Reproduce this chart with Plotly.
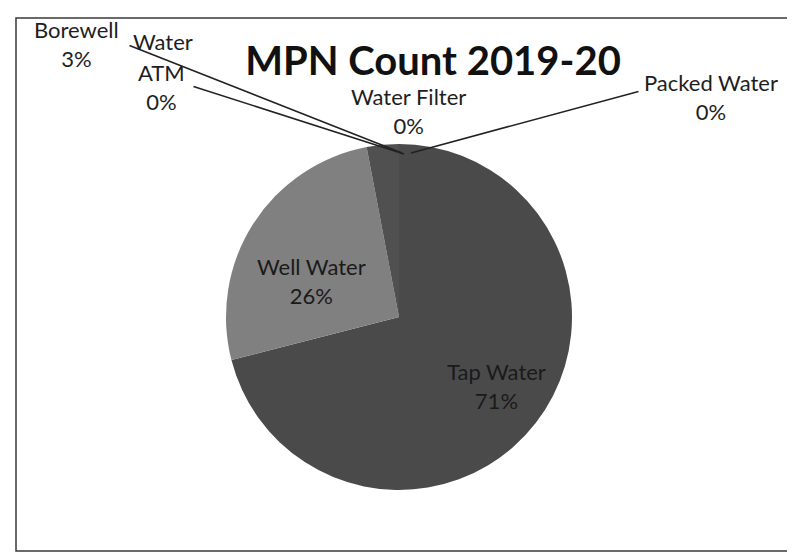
import plotly.graph_objects as go

# ---- data ----
categories = ["Tap Water", "Well Water", "Borewell Water", "ATM", "Water Filter", "Packed Water"]
percent_values = [71, 26, 3, 0, 0, 0]
slice_colors = ["#4a4a4a", "#808080", "#505050", "#666666", "#666666", "#666666"]
title_text = "MPN Count 2019-20"

W, H = 795, 557
FONT = "Lato"

# pie geometry (pixels)
cx, cy, r = 391, 309, 173
dom_x = [(cx - r) / W, (cx + r) / W]
dom_y = [1 - (cy + r) / H, 1 - (cy - r) / H]

def px(x):
    return x / W

def py(y):
    return 1 - y / H

fig = go.Figure(go.Pie(
    labels=categories,
    values=percent_values,
    sort=False,
    direction="clockwise",
    rotation=0,
    marker=dict(colors=slice_colors, line=dict(color="#6a6a6a", width=0)),
    textinfo="none",
    domain=dict(x=dom_x, y=dom_y),
    showlegend=False,
    hoverinfo="label+percent",
))

annotations = []
LABEL_FONT = dict(family=FONT, size=22, color="#1e1e1e")
INSIDE_FONT = dict(family=FONT, size=22, color="#1a1a1a")
# data labels: (label index, text centre px, display label, font)
data_labels = [
    (0, 488, 378, categories[0], INSIDE_FONT),
    (1, 303, 273, categories[1], INSIDE_FONT),
    (2, 68, 36, "Borewell", LABEL_FONT),
    (3, 153, 79, "ATM", LABEL_FONT),
    (4, 400, 103, "Water Filter", LABEL_FONT),
    (5, 703, 89, "Packed Water", LABEL_FONT),
]
for idx, tx, ty, name, fnt in data_labels:
    annotations.append(dict(
        x=px(tx), y=py(ty), xref="paper", yref="paper",
        text=f"{name}<br>{percent_values[idx]}%", showarrow=False,
        font=fnt, xanchor="center", yanchor="middle", align="center",
    ))
# trailing word of "Borewell Water" label
annotations.append(dict(
    x=px(155), y=py(33), xref="paper", yref="paper", text="Water",
    showarrow=False, font=LABEL_FONT, xanchor="center", yanchor="middle",
))

# leader lines: (start px, end px)
leaders = [
    ((120, 37), (394, 145)),
    ((184, 78), (396, 146)),
    ((632, 83), (403, 145)),
]
for (sx, sy), (ex, ey) in leaders:
    annotations.append(dict(
        x=px(ex), y=py(ey), xref="paper", yref="paper",
        ax=sx - ex, ay=sy - ey, text="", showarrow=True,
        arrowhead=0, arrowwidth=1.6, arrowcolor="#222222",
        standoff=0, startstandoff=0,
    ))

fig.update_layout(
    width=W, height=H,
    margin=dict(l=0, r=0, t=0, b=0),
    paper_bgcolor="white",
    plot_bgcolor="white",
    title=dict(
        text=title_text, x=px(425), y=py(53), xanchor="center", yanchor="middle",
        font=dict(family=FONT, size=40, color="#111111", weight="bold"),
    ),
    annotations=annotations,
    shapes=[dict(
        type="rect", xref="paper", yref="paper",
        x0=px(8), x1=px(784), y0=py(543), y1=py(10),
        line=dict(color="#3a3a3a", width=1.5),
    )],
)

fig.write_html("out.html")
